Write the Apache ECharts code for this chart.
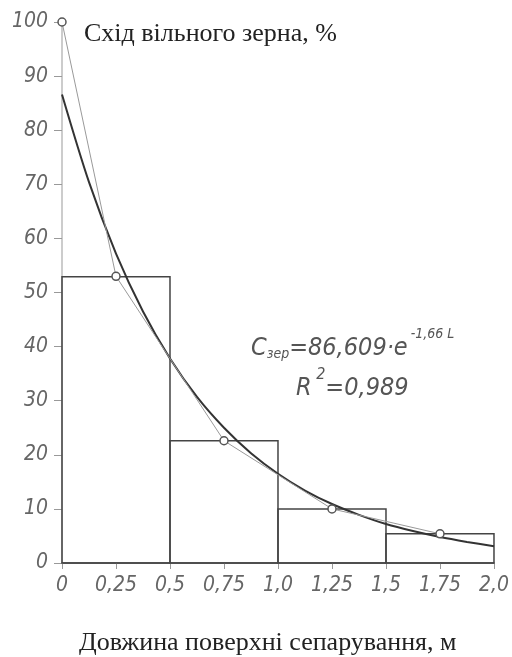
<!DOCTYPE html>
<html>
<head>
<meta charset="utf-8">
<script src="https://cdn.jsdelivr.net/npm/echarts@6/dist/echarts.min.js"></script>
<style>
  html, body { margin: 0; padding: 0; background: #fff; }
  #chart { width: 512px; height: 657px; }
</style>
</head>
<body>
<div id="chart"></div>
<script>
// гістограма: межі інтервалів і висота стовпців, %
const binStarts = [0, 0.5, 1.0, 1.5];
const binEnds = [0.5, 1.0, 1.5, 2.0];
const binValues = [52.9, 22.6, 10.0, 5.4];

// експериментальні точки
const pointX = [0, 0.25, 0.75, 1.25, 1.75];
const pointY = [100, 53, 22.6, 10.0, 5.4];

// апроксимуюча крива
const curveX = [0, 0.125, 0.25, 0.375, 0.5, 0.625, 0.75, 0.875, 1.0, 1.125, 1.25, 1.375, 1.5, 1.625, 1.75, 1.875, 2.0];
const curveY = [86.6, 70.4, 57.2, 46.5, 37.8, 30.7, 25.0, 20.3, 16.5, 13.4, 10.9, 8.9, 7.2, 5.9, 4.8, 3.9, 3.1];

const xTickLabels = ['0', '0,25', '0,5', '0,75', '1,0', '1,25', '1,5', '1,75', '2,0'];

const techFont = '"Liberation Sans Narrow", "DejaVu Sans Condensed", "DejaVu Sans", sans-serif';
const serifFont = '"Liberation Serif", "DejaVu Serif", serif';

const chart = echarts.init(document.getElementById('chart'));

const option = {
    backgroundColor: '#ffffff',
    animation: false,
    grid: { left: 62, right: 18, top: 22, bottom: 94 },
    xAxis: {
        type: 'value',
        min: 0,
        max: 2,
        interval: 0.25,
        splitLine: { show: false },
        axisLine: { lineStyle: { color: '#444', width: 1.5 } },
        axisTick: { length: 6, lineStyle: { color: '#999' } },
        axisLabel: {
            color: '#666',
            fontFamily: techFont,
            fontStyle: 'italic',
            fontWeight: 300,
            fontSize: 21,
            margin: 12,
            formatter: (v) => xTickLabels[Math.round(v / 0.25)]
        }
    },
    yAxis: {
        type: 'value',
        min: 0,
        max: 100,
        interval: 10,
        splitLine: { show: false },
        axisLine: { show: true, lineStyle: { color: '#bbb', width: 1.5 } },
        axisTick: { length: 8, lineStyle: { color: '#999' } },
        axisLabel: {
            color: '#666',
            fontFamily: techFont,
            fontStyle: 'italic',
            fontWeight: 300,
            fontSize: 21,
            margin: 14
        }
    },
    graphic: [
        {
            type: 'text', left: 84, top: 21,
            style: { text: 'Схід вільного зерна, %', font: '26px ' + serifFont, fill: '#222' }
        },
        {
            type: 'text', left: 79, top: 630,
            style: { text: 'Довжина поверхні сепарування, м', font: '26px ' + serifFont, fill: '#222' }
        },
        {
            type: 'text', left: 251, top: 327,
            style: {
                text: '{m|C}{s|зер}{m|=86,609·e}{p|-1,66 L}',
                rich: {
                    m: { fontFamily: techFont, fontStyle: 'italic', fontSize: 25, fill: '#555', verticalAlign: 'bottom' },
                    s: { fontFamily: techFont, fontStyle: 'italic', fontSize: 14, fill: '#555', padding: [12, 0, 0, 0], verticalAlign: 'bottom' },
                    p: { fontFamily: techFont, fontStyle: 'italic', fontSize: 14, fill: '#555', padding: [0, 0, 20, 3], verticalAlign: 'bottom' }
                }
            }
        },
        {
            type: 'text', left: 296, top: 367,
            style: {
                text: '{m|R}{p| 2}{m|=0,989}',
                rich: {
                    m: { fontFamily: techFont, fontStyle: 'italic', fontSize: 25, fill: '#555', verticalAlign: 'bottom' },
                    p: { fontFamily: techFont, fontStyle: 'italic', fontSize: 16, fill: '#555', padding: [0, 0, 18, 0], verticalAlign: 'bottom' }
                }
            }
        }
    ],
    series: [
        {
            type: 'custom',
            z: 1,
            data: binValues.map((v, i) => [binStarts[i], binEnds[i], v]),
            renderItem: (params, api) => {
                const p0 = api.coord([api.value(0), api.value(2)]);
                const p1 = api.coord([api.value(1), 0]);
                return {
                    type: 'rect',
                    shape: { x: p0[0], y: p0[1], width: p1[0] - p0[0], height: p1[1] - p0[1] },
                    style: { fill: 'none', stroke: '#444', lineWidth: 1.5 }
                };
            }
        },
        {
            type: 'line',
            data: pointX.map((x, i) => [x, pointY[i]]),
            lineStyle: { color: '#999', width: 1 },
            symbol: 'circle',
            symbolSize: 8,
            itemStyle: { color: '#fff', borderColor: '#555', borderWidth: 1.5 },
            z: 4
        },
        {
            type: 'line',
            z: 3,
            data: curveX.map((x, i) => [x, curveY[i]]),
            smooth: 0.3,
            showSymbol: false,
            lineStyle: { color: '#333', width: 2 }
        }
    ]
};

chart.setOption(option);
</script>
</body>
</html>
